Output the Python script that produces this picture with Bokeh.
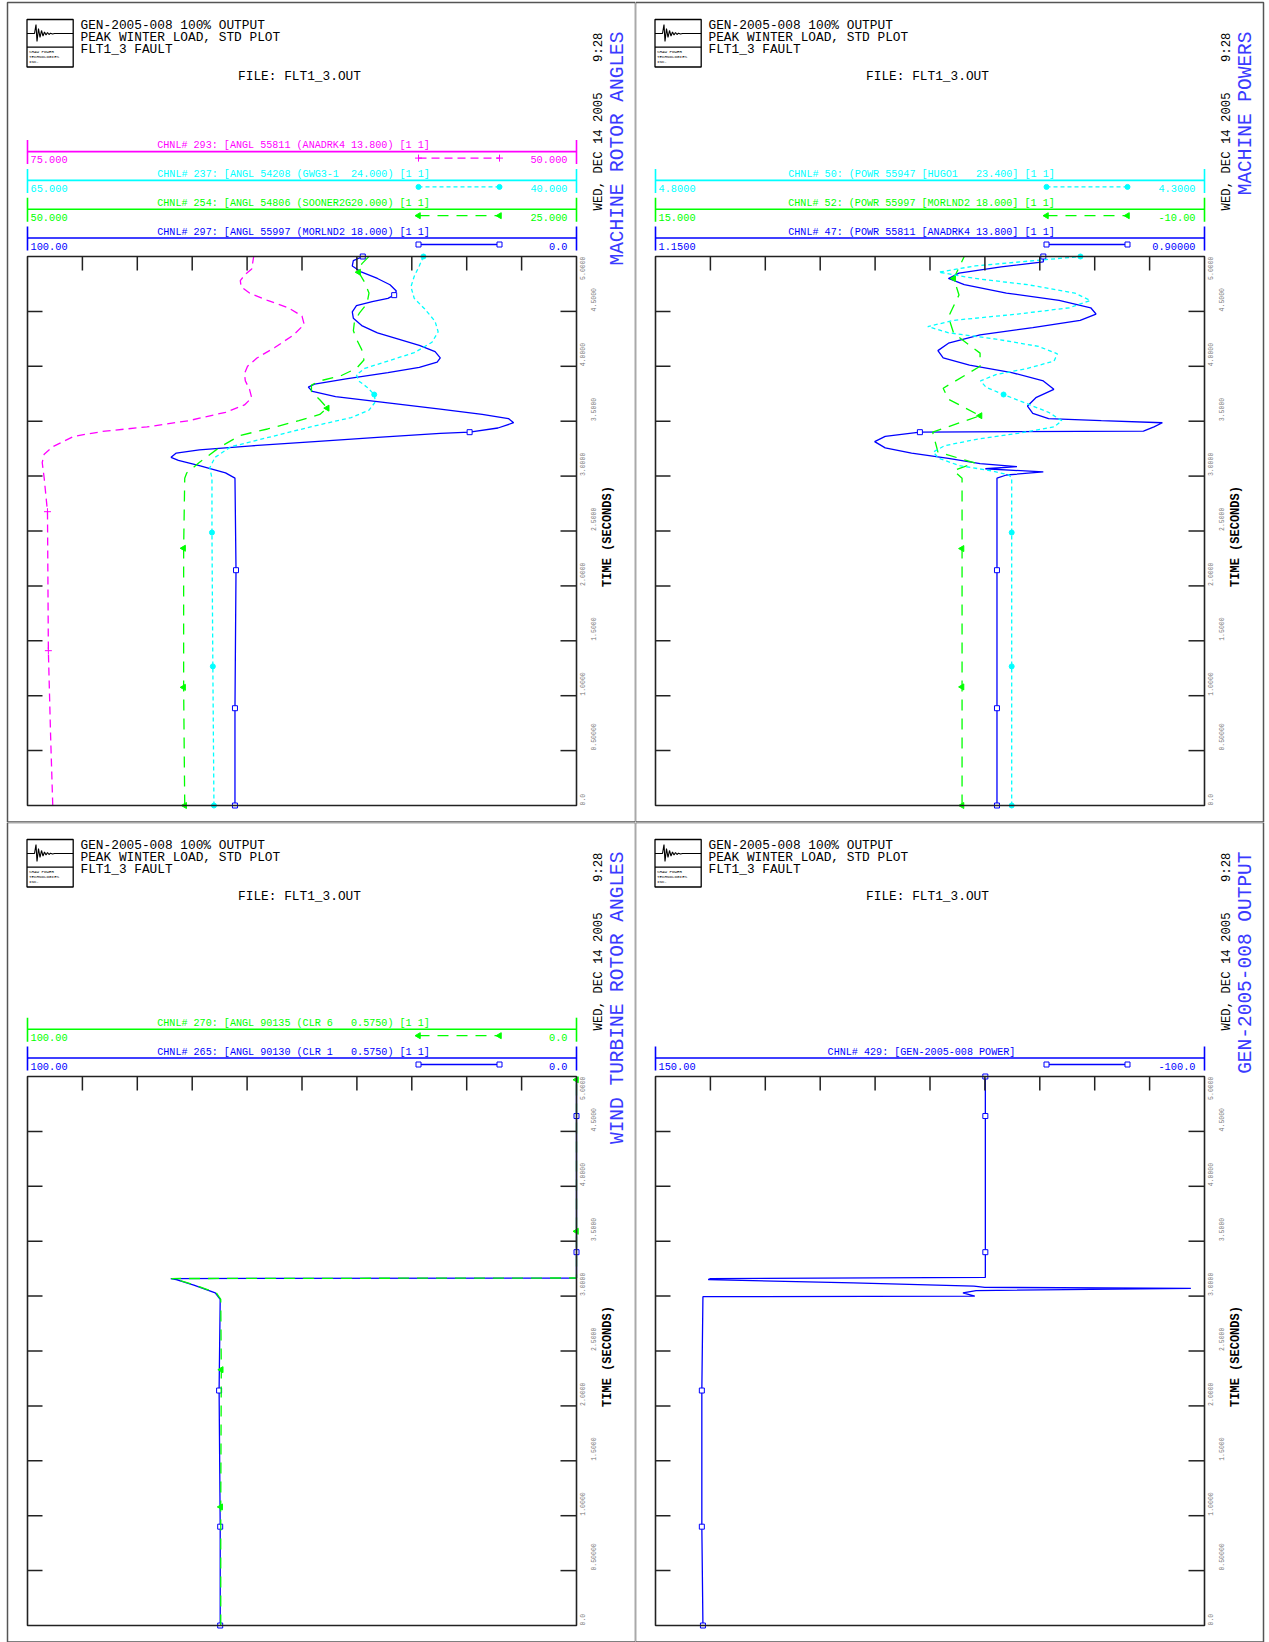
import numpy as np
from bokeh.plotting import figure
from bokeh.models import Range1d
from bokeh.layouts import column, row
from bokeh.embed import file_html
from bokeh.resources import INLINE
from bokeh.core.properties import value

FONT = "Liberation Mono"
NBSP = "\u00a0"

HEADER_LINES = ["GEN-2005-008 100% OUTPUT", "PEAK WINTER LOAD, STD PLOT", "FLT1_3 FAULT"]
FILE_LABEL = "FILE: FLT1_3.OUT"
DATE_LABEL = "WED, DEC 14 2005"
TIME_OF_DAY = "9:28"
TIME_LABEL = "TIME (SECONDS)"
TIME_TICKS = [0.0, 0.5, 1.0, 1.5, 2.0, 2.5, 3.0, 3.5, 4.0, 4.5, 5.0]
TIME_TICK_LABELS = ["0.0", "0.50000", "1.0000", "1.5000", "2.0000", "2.5000",
                    "3.0000", "3.5000", "4.0000", "4.5000", "5.0000"]
LOGO_TEXT = ["SHAW POWER", "TECHNOLOGIES", "INC."]

# ---------------- panel 1 : machine rotor angles ----------------
T_293 = [0.0, 0.648, 1.410, 2.676, 2.981, 3.124, 3.200, 3.267, 3.362, 3.410, 3.448, 3.505,
         3.581, 3.648, 3.714, 3.790, 3.867, 3.933, 4.000, 4.076, 4.171, 4.286, 4.381, 4.457,
         4.533, 4.600, 4.667, 4.724, 4.781, 4.838, 4.886, 5.0]
V_293 = [73.85, 73.95, 74.05, 74.09, 74.24, 74.33, 74.24, 73.85, 72.90, 71.47, 69.56, 67.65,
         65.98, 65.12, 64.79, 64.89, 65.08, 65.12, 64.98, 64.55, 63.74, 62.88, 62.40, 62.50,
         63.12, 64.07, 64.89, 65.27, 65.31, 65.08, 64.79, 64.70]
M_293 = [1.410, 2.676]

T_237 = [0.0, 1.267, 2.486, 2.981, 3.076, 3.171, 3.267, 3.362, 3.457, 3.533, 3.600, 3.676,
         3.743, 3.810, 3.867, 3.924, 3.981, 4.048, 4.124, 4.219, 4.314, 4.410, 4.524, 4.619,
         4.724, 4.819, 4.914, 5.0]
V_237 = [56.51, 56.56, 56.60, 56.60, 56.70, 56.46, 55.74, 53.84, 51.93, 50.26, 49.45, 49.16,
         49.21, 49.54, 49.92, 50.02, 49.64, 48.59, 47.39, 46.58, 46.30, 46.44, 46.92, 47.39,
         47.54, 47.39, 47.16, 46.97]
M_237 = [0.0, 1.267, 2.486, 3.743, 5.0]

T_254 = [0.0, 1.076, 2.343, 2.981, 3.029, 3.124, 3.267, 3.371, 3.429, 3.505, 3.562, 3.619,
         3.695, 3.771, 3.829, 3.867, 3.914, 3.981, 4.057, 4.152, 4.248, 4.324, 4.410, 4.486,
         4.571, 4.667, 4.762, 4.857, 4.933, 5.0]
V_254 = [42.84, 42.89, 42.89, 42.84, 42.75, 42.18, 41.22, 40.31, 39.07, 37.64, 36.69, 36.35,
         36.69, 37.07, 37.07, 36.69, 35.73, 35.02, 34.68, 34.78, 35.02, 35.16, 35.11, 34.88,
         34.54, 34.45, 34.64, 34.92, 34.78, 34.45]
M_254 = [0.0, 1.076, 2.343, 3.619, 4.857]

T_297 = [0.0, 0.886, 2.143, 2.981, 3.029, 3.095, 3.143, 3.171, 3.210, 3.238, 3.276, 3.314,
         3.352, 3.390, 3.400, 3.438, 3.486, 3.524, 3.562, 3.610, 3.667, 3.724, 3.771, 3.810,
         3.838, 3.886, 3.943, 3.990, 4.038, 4.076, 4.133, 4.190, 4.248, 4.305, 4.371, 4.438,
         4.495, 4.552, 4.590, 4.619, 4.648, 4.686, 4.743, 4.800, 4.857, 4.914, 4.962, 5.0]
V_297 = [62.21, 62.21, 62.02, 62.21, 63.93, 68.70, 72.52, 73.85, 72.90, 68.70, 59.16, 47.71,
         36.26, 24.81, 19.47, 14.31, 11.45, 12.40, 17.18, 24.81, 34.35, 43.89, 48.09, 48.85,
         47.71, 41.98, 34.35, 28.63, 25.38, 24.81, 25.76, 28.63, 32.44, 36.26, 39.12, 40.65,
         40.84, 40.08, 37.21, 34.35, 33.21, 32.82, 33.97, 36.26, 39.12, 40.84, 40.65, 38.93]
M_297 = [0.0, 0.886, 2.143, 3.400, 4.648, 5.0]

# ---------------- panel 2 : machine powers ----------------
T_50 = [0.0, 1.267, 2.486, 2.981, 3.010, 3.048, 3.095, 3.162, 3.219, 3.276, 3.333, 3.390,
        3.448, 3.505, 3.581, 3.657, 3.743, 3.810, 3.867, 3.924, 3.981, 4.048, 4.114, 4.181,
        4.248, 4.305, 4.362, 4.419, 4.476, 4.533, 4.600, 4.667, 4.743, 4.800, 4.857, 4.914,
        5.0]
V_50 = [4.4756, 4.4756, 4.4756, 4.4756, 4.478, 4.494, 4.523, 4.542, 4.547, 4.537, 4.509,
        4.470, 4.437, 4.430, 4.442, 4.461, 4.483, 4.499, 4.504, 4.490, 4.461, 4.437, 4.434,
        4.451, 4.490, 4.533, 4.552, 4.528, 4.470, 4.423, 4.404, 4.418, 4.461, 4.509, 4.542,
        4.509, 4.413]
M_50 = [0.0, 1.267, 2.486, 3.743, 5.0]

T_52 = [0.0, 1.08, 2.34, 2.98, 3.05, 3.12, 3.22, 3.40, 3.55, 3.70, 3.80, 4.0, 4.12, 4.30,
        4.45, 4.65, 4.80, 5.0]
V_52 = [1.04, 1.04, 1.04, 1.04, 1.42, 0.46, 2.14, 2.38, 0.22, 1.66, 1.90, 0.22, 0.22, 1.42,
        1.66, 1.18, 1.42, 0.94]
M_52 = [0.0, 1.08, 2.34, 3.55, 4.80]

T_47 = [0.0, 0.886, 2.143, 2.981, 3.010, 3.038, 3.067, 3.086, 3.114, 3.162, 3.210, 3.257,
        3.314, 3.362, 3.400, 3.410, 3.448, 3.486, 3.505, 3.524, 3.571, 3.638, 3.714, 3.790,
        3.867, 3.943, 4.010, 4.076, 4.143, 4.210, 4.286, 4.352, 4.419, 4.476, 4.533, 4.600,
        4.667, 4.743, 4.800, 4.848, 4.905, 4.952, 5.0]
V_47 = [0.9945, 0.9945, 0.9945, 0.9945, 0.9902, 0.9734, 0.9998, 0.9854, 1.0022, 1.0166,
        1.0334, 1.0454, 1.0502, 1.0454, 1.0296, 0.9278, 0.9230, 0.9192, 0.9470, 0.9710,
        0.9782, 0.9806, 0.9768, 0.9686, 0.9734, 0.9878, 1.0070, 1.0190, 1.0214, 1.0166,
        1.0022, 0.9782, 0.9566, 0.9494, 0.9518, 0.9662, 0.9902, 1.0094, 1.0166, 1.0118,
        0.9926, 0.9734, 0.9734]
M_47 = [0.0, 0.886, 2.143, 3.400, 5.0]

# ---------------- panel 3 : wind turbine rotor angles ----------------
T_270 = [0.0, 1.08, 2.33, 2.97, 3.03, 3.10, 3.15, 3.16, 3.165, 3.59, 4.97, 5.0]
V_270 = [64.8, 64.8, 64.7, 64.8, 65.6, 69.5, 72.8, 73.8, 0.0, 0.0, 0.0, 0.0]
M_270 = [1.08, 2.33, 3.59, 4.97]

T_265 = [0.0, 0.9, 2.14, 2.97, 3.03, 3.10, 3.15, 3.16, 3.165, 3.40, 4.64, 5.0]
V_265 = [64.9, 64.9, 65.1, 64.9, 65.8, 69.7, 72.9, 73.9, 0.0, 0.0, 0.0, 0.0]
M_265 = [0.0, 0.9, 2.14, 3.40, 4.64]

# ---------------- panel 4 : GEN-2005-008 output ----------------
T_429 = [0.0, 0.9, 2.14, 2.995, 3.0, 3.03, 3.05, 3.07, 3.08, 3.09, 3.12, 3.15, 3.16, 3.17,
         3.40, 4.64, 5.0]
V_429 = [128.4, 128.9, 128.9, 128.4, 4.6, 10.0, 4.0, -93.8, 0.0, 5.0, 60.0, 126.0, 125.0,
         -0.2, -0.2, -0.2, -0.2]
M_429 = [0.0, 0.9, 2.14, 3.40, 4.64, 5.0]

MAGENTA, CYAN, GREEN, BLUE = "#ff00ff", "#00ffff", "#00ff00", "#0000ff"
STYLE = {
    MAGENTA: dict(dash="8 5", marker="cross", size=7),
    CYAN: dict(dash="4 3", marker="circle", size=5),
    GREEN: dict(dash="11 8", marker="triangle", size=6),
    BLUE: dict(dash="solid", marker="square", size=5),
}

PANELS = [
    dict(title="MACHINE ROTOR ANGLES", channels=[
        dict(label="CHNL# 293: [ANGL 55811 (ANADRK4 13.800) [1 1]", left=75.0, right=50.0,
             ltxt="75.000", rtxt="50.000", color=MAGENTA, t=T_293, v=V_293, m=M_293),
        dict(label="CHNL# 237: [ANGL 54208 (GWG3-1  24.000) [1 1]", left=65.0, right=40.0,
             ltxt="65.000", rtxt="40.000", color=CYAN, t=T_237, v=V_237, m=M_237),
        dict(label="CHNL# 254: [ANGL 54806 (SOONER2G20.000) [1 1]", left=50.0, right=25.0,
             ltxt="50.000", rtxt="25.000", color=GREEN, t=T_254, v=V_254, m=M_254),
        dict(label="CHNL# 297: [ANGL 55997 (MORLND2 18.000) [1 1]", left=100.0, right=0.0,
             ltxt="100.00", rtxt="0.0", color=BLUE, t=T_297, v=V_297, m=M_297),
    ]),
    dict(title="MACHINE POWERS", channels=[
        dict(label="CHNL# 50: (POWR 55947 [HUGO1   23.400] [1 1]", left=4.8, right=4.3,
             ltxt="4.8000", rtxt="4.3000", color=CYAN, t=T_50, v=V_50, m=M_50),
        dict(label="CHNL# 52: (POWR 55997 [MORLND2 18.000] [1 1]", left=15.0, right=-10.0,
             ltxt="15.000", rtxt="-10.00", color=GREEN, t=T_52, v=V_52, m=M_52),
        dict(label="CHNL# 47: (POWR 55811 [ANADRK4 13.800] [1 1]", left=1.15, right=0.9,
             ltxt="1.1500", rtxt="0.90000", color=BLUE, t=T_47, v=V_47, m=M_47),
    ]),
    dict(title="WIND TURBINE ROTOR ANGLES", channels=[
        dict(label="CHNL# 270: [ANGL 90135 (CLR 6   0.5750) [1 1]", left=100.0, right=0.0,
             ltxt="100.00", rtxt="0.0", color=GREEN, t=T_270, v=V_270, m=M_270),
        dict(label="CHNL# 265: [ANGL 90130 (CLR 1   0.5750) [1 1]", left=100.0, right=0.0,
             ltxt="100.00", rtxt="0.0", color=BLUE, t=T_265, v=V_265, m=M_265),
    ]),
    dict(title="GEN-2005-008 OUTPUT", channels=[
        dict(label="CHNL# 429: [GEN-2005-008 POWER]", left=150.0, right=-100.0,
             ltxt="150.00", rtxt="-100.0", color=BLUE, t=T_429, v=V_429, m=M_429),
    ]),
]

# page-local layout (pixels)
BOX_L, BOX_R, BOX_T, BOX_B = 20.0, 569.0, 254.0, 803.0
BOX_W, BOX_H = BOX_R - BOX_L, BOX_B - BOX_T
T_MAX = 5.0
PAGE_W, PAGE_H = 628.0, 820.0


def keep_spaces(s):
    return s.replace("  ", NBSP + NBSP).replace(NBSP + " ", NBSP + NBSP)


def txt(p, x, y, s, size, color="black", align="left", baseline="middle", angle=0.0,
        style="normal", **kw):
    p.text(x=[x], y=[y], text=[keep_spaces(s)], text_font=value(FONT),
           text_font_size=f"{size}px", text_color=color, text_align=align,
           text_baseline=baseline, angle=angle, text_font_style=style, **kw)


def make_panel(spec, W, H, ox, oy):
    p = figure(width=W, height=H, x_range=Range1d(-ox, W - ox), y_range=Range1d(H - oy, -oy),
               output_backend="svg", toolbar_location=None, min_border=0,
               x_axis_location=None, y_axis_location=None, outline_line_color=None,
               background_fill_color="white", border_fill_color="white")
    p.xgrid.grid_line_color = None
    p.ygrid.grid_line_color = None
    t_lo = (BOX_B - (H - oy)) / BOX_H * T_MAX
    t_hi = (BOX_B + oy) / BOX_H * T_MAX
    p.extra_y_ranges = {"time": Range1d(t_lo, t_hi)}

    # page border
    p.quad(left=[0], right=[PAGE_W], top=[0], bottom=[PAGE_H - 0.5], fill_color=None,
           line_color="#555555", line_width=1.5)

    # logo
    p.quad(left=[19.5], right=[65.7], top=[17.0], bottom=[64.5], fill_color=None,
           line_color="black", line_width=1.3)
    p.line(x=[19.5, 65.7], y=[44.7, 44.7], line_color="black", line_width=1.2)
    wx = [19.5, 27, 28.5, 29.5, 31, 32.5, 34, 35.5, 37, 38.5, 40, 41.5, 43, 45, 47, 65.7]
    wy = [31, 31, 22, 39, 26, 35, 28, 33.5, 29.5, 32.5, 30, 32, 30.7, 31.5, 31, 31]
    p.line(x=wx, y=wy, line_color="black", line_width=1.1)
    for i, s in enumerate(LOGO_TEXT):
        txt(p, 21.5, 49.5 + i * 5.0, s, 4.2)

    # header text
    for i, s in enumerate(HEADER_LINES):
        txt(p, 73.0, 23.0 + i * 12.2, s, 12.8)
    txt(p, 292.0, 74.0, FILE_LABEL, 12.8, align="center")

    # right-hand rotated titles
    txt(p, 591.0, 208.0, DATE_LABEL, 12.3, align="left", angle=np.pi / 2)
    txt(p, 591.0, 30.0, TIME_OF_DAY, 12.3, align="right", angle=np.pi / 2)
    txt(p, 610.0, 29.0, spec["title"], 19.5, color="#3a3aff", align="right", angle=np.pi / 2)

    # legend bands
    chans = spec["channels"]
    n = len(chans)
    for i, ch in enumerate(chans):
        k = n - 1 - i
        ly = 235.5 - 28.8 * k
        col = ch["color"]
        st = STYLE[col]
        p.line(x=[BOX_L, BOX_R], y=[ly, ly], line_color=col, line_width=1.6)
        p.segment(x0=[BOX_L, BOX_R], x1=[BOX_L, BOX_R], y0=[ly - 11.5] * 2, y1=[ly + 12.5] * 2,
                  line_color=col, line_width=1.6)
        txt(p, 286.0, ly - 0.3, ch["label"], 10.1, color=col, align="center", baseline="bottom")
        txt(p, BOX_L + 3.0, ly + 8.0, ch["ltxt"], 10.3, color=col)
        txt(p, BOX_R - 9.0, ly + 8.0, ch["rtxt"], 10.3, color=col, align="right")
        sy = ly + 6.5
        p.line(x=[411.0, 492.0], y=[sy, sy], line_color=col, line_width=1.3,
               line_dash=st["dash"])
        p.scatter(x=[411.0, 492.0], y=[sy, sy], marker=st["marker"], size=st["size"],
                  line_color=col, fill_color=("white" if col == BLUE else col),
                  angle=(np.pi / 2 if col == GREEN else 0.0))

    # curves (last channel drawn first)
    for i in reversed(range(n)):
        ch = chans[i]
        col = ch["color"]
        st = STYLE[col]
        name = f"ch{i}"
        a, b = ch["left"], ch["right"]
        v0 = a + (-ox - BOX_L) / BOX_W * (b - a)
        v1 = a + (W - ox - BOX_L) / BOX_W * (b - a)
        p.extra_x_ranges[name] = Range1d(v0, v1)
        p.line(x=ch["v"], y=ch["t"], x_range_name=name, y_range_name="time",
               line_color=col, line_width=1.3, line_dash=st["dash"])
        tt = np.array(ch["t"])
        vv = np.array(ch["v"])
        sel = np.isin(tt, ch["m"])
        p.scatter(x=vv[sel], y=tt[sel], x_range_name=name, y_range_name="time",
                  marker=st["marker"], size=st["size"], line_color=col,
                  fill_color=("white" if col == BLUE else col),
                  angle=(np.pi / 2 if col == GREEN else 0.0))

    # plot box
    p.quad(left=[BOX_L], right=[BOX_R], top=[BOX_T], bottom=[BOX_B], fill_color=None,
           line_color="#222222", line_width=1.6)
    xs = [BOX_L + k * BOX_W / 10 for k in range(1, 10)]
    p.segment(x0=xs, x1=xs, y0=[BOX_T] * 9, y1=[BOX_T + 14] * 9, line_color="#222222",
              line_width=1.5)
    inner = TIME_TICKS[1:-1]
    p.segment(x0=[BOX_L] * len(inner), x1=[BOX_L + 15] * len(inner), y0=inner, y1=inner,
              y_range_name="time", line_color="#222222", line_width=1.5)
    p.segment(x0=[BOX_R - 16] * len(inner), x1=[BOX_R] * len(inner), y0=inner, y1=inner,
              y_range_name="time", line_color="#222222", line_width=1.5)
    for i, (tv, lab) in enumerate(zip(TIME_TICKS, TIME_TICK_LABELS)):
        xx = BOX_R + 6.0 if i % 2 == 0 else BOX_R + 17.0
        al = "right" if tv == T_MAX else "left"
        p.text(x=[xx], y=[tv], text=[lab], y_range_name="time", angle=np.pi / 2,
               text_font=value(FONT), text_font_size="6.5px", text_color="#777777",
               text_align=al, text_baseline="middle")
    p.text(x=[600.0], y=[2.45], text=[TIME_LABEL], y_range_name="time", angle=np.pi / 2,
           text_font=value(FONT), text_font_size="12px", text_font_style="bold",
           text_color="black", text_align="center", text_baseline="middle")
    return p


p1 = make_panel(PANELS[0], 635, 822, 7, 2)
p2 = make_panel(PANELS[1], 634, 822, 0, 2)
p3 = make_panel(PANELS[2], 635, 820, 7, 0)
p4 = make_panel(PANELS[3], 634, 820, 0, 0)

layout = column(row(p1, p2), row(p3, p4))
open("out.html", "w").write(file_html(layout, INLINE))
